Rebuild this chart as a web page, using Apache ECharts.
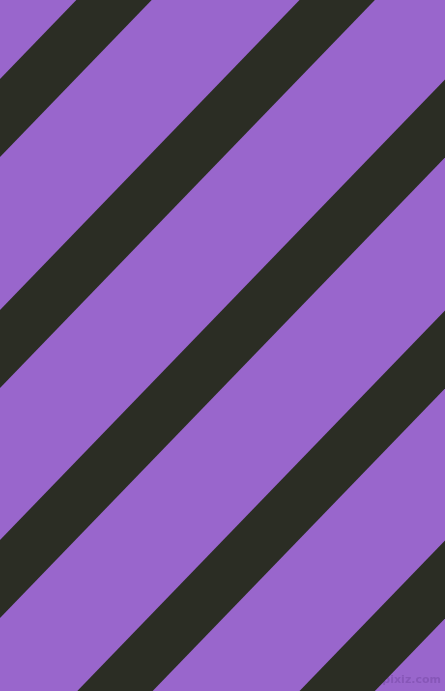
<!DOCTYPE html>
<html>
<head>
<meta charset="utf-8">
<script src="https://cdn.jsdelivr.net/npm/echarts@6/dist/echarts.min.js"></script>
<style>
  html, body { margin: 0; padding: 0; background: #9966cc; }
  #main { width: 445px; height: 691px; }
</style>
</head>
<body>
<div id="main"></div>
<script>
// where each dark band's upper edge meets the left side (y, top = 0)
const bandStarts = [79, 310, 540, 771, 1001];
// vertical thickness of each band
const bandWidths = [78, 78, 78, 78, 78];
// drop of the edge per unit of x (edges run up to the right)
const bandSlope = 1.035;

const xMax = 445;
const yMax = 691;

const chart = echarts.init(document.getElementById('main'));

chart.setOption({
  backgroundColor: '#9966cc',
  animation: false,
  grid: { left: 0, right: 0, top: 0, bottom: 0 },
  xAxis: { type: 'value', min: 0, max: xMax, show: false },
  yAxis: { type: 'value', min: 0, max: yMax, inverse: true, show: false },
  series: [
    {
      type: 'custom',
      data: bandStarts.map((c, i) => [c, bandWidths[i]]),
      renderItem: function (params, api) {
        const c = api.value(0);
        const w = api.value(1);
        const drop = bandSlope * xMax;
        const pts = [
          api.coord([0, c]),
          api.coord([0, c + w]),
          api.coord([xMax, c + w - drop]),
          api.coord([xMax, c - drop])
        ];
        return {
          type: 'polygon',
          shape: { points: pts },
          style: { fill: '#2b2d24' }
        };
      }
    }
  ],
  graphic: [
    {
      type: 'text',
      right: 4,
      bottom: 5,
      style: {
        text: 'pixiz.com',
        font: 'bold 11px "DejaVu Sans"',
        fill: '#8757b8'
      }
    }
  ]
});
</script>
</body>
</html>
